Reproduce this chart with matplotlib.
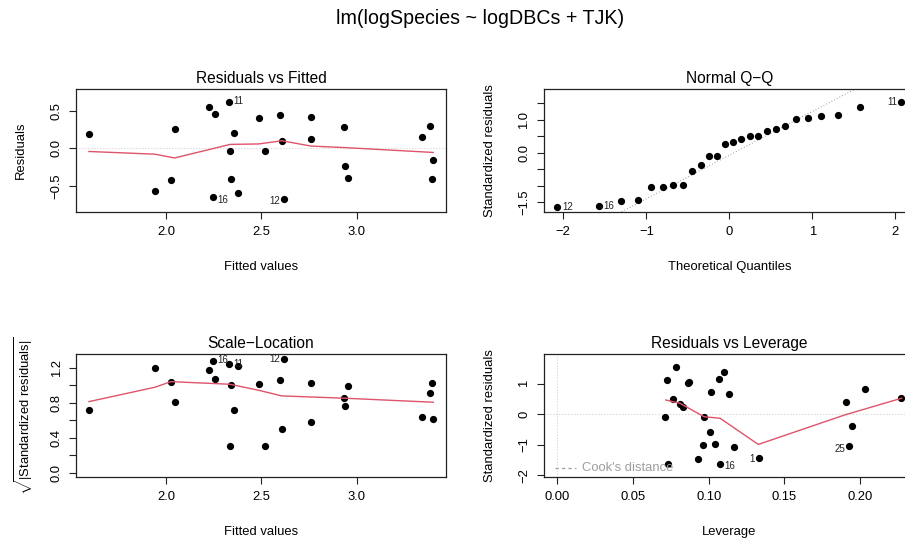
import matplotlib
matplotlib.use('Agg')
import matplotlib.pyplot as plt
from matplotlib.lines import Line2D

plt.rcParams['font.family'] = ['Liberation Sans', 'DejaVu Sans']
plt.rcParams['mathtext.fontset'] = 'custom'
plt.rcParams['mathtext.rm'] = 'Liberation Sans'
plt.rcParams['mathtext.it'] = 'Liberation Sans:italic'
plt.rcParams['axes.unicode_minus'] = True

# ---------------- data ----------------
main_title = "lm(logSpecies ~ logDBCs + TJK)"

fitted = [1.596, 1.942, 2.026, 2.045, 2.226, 2.248, 2.255, 2.329, 2.337, 2.343,
          2.358, 2.378, 2.486, 2.521, 2.596, 2.608, 2.619, 2.760, 2.760, 2.935,
          2.937, 2.956, 3.344, 3.386, 3.395, 3.402]
residuals = [0.190, -0.566, -0.425, 0.252, 0.549, -0.646, 0.451, 0.615, -0.040, -0.403,
             0.204, -0.593, 0.403, -0.040, 0.447, 0.097, -0.677, 0.416, 0.128, 0.283,
             -0.235, -0.398, 0.150, 0.301, -0.403, -0.150]
sqrt_std_resid = [0.718, 1.200, 1.033, 0.809, 1.177, 1.276, 1.071, 1.238, 0.300, 1.003,
                  0.718, 1.215, 1.010, 0.300, 1.056, 0.501, 1.295, 1.025, 0.577, 0.855,
                  0.760, 0.991, 0.642, 0.908, 1.029, 0.615]
# indices (into fitted lists) of labelled points and their labels
rvf_labels = {7: "11", 5: "16", 16: "12"}

# smoother lines
rvf_smooth_x = [1.596, 1.942, 2.045, 2.337, 2.486, 2.608, 2.760, 2.935, 3.402]
rvf_smooth_y = [-0.042, -0.078, -0.128, 0.052, 0.058, 0.100, 0.030, 0.010, -0.055]
sl_smooth_x = [1.596, 1.942, 2.026, 2.336, 2.493, 2.607, 2.935, 3.402]
sl_smooth_y = [0.812, 0.976, 1.040, 1.010, 0.938, 0.877, 0.851, 0.805]

# Normal Q-Q
theo_q = [-2.070, -1.574, -1.304, -1.105, -0.942, -0.801, -0.674, -0.558, -0.448, -0.344,
          -0.243, -0.145, -0.048, 0.048, 0.145, 0.243, 0.344, 0.448, 0.558, 0.674,
          0.801, 0.942, 1.105, 1.304, 1.574, 2.070]
std_resid_sorted = [-1.651, -1.621, -1.469, -1.429, -1.054, -1.054, -0.993, -0.973, -0.567, -0.375,
                    -0.091, -0.091, 0.253, 0.334, 0.415, 0.517, 0.517, 0.648, 0.729, 0.821,
                    1.013, 1.044, 1.125, 1.155, 1.388, 1.540]
qq_labels = {0: "12", 1: "16", 25: "11"}
qq_slope = 1.326
qq_intercept = -0.075

# Residuals vs Leverage
leverage = [0.0786, 0.0722, 0.0767, 0.0714, 0.0729, 0.0808, 0.0830, 0.0861, 0.0872, 0.0932,
            0.0965, 0.0971, 0.1011, 0.1018, 0.1040, 0.1066, 0.1075, 0.1104, 0.1134, 0.1167,
            0.1330, 0.1905, 0.1927, 0.1949, 0.2031, 0.2273]
lev_std_resid = [1.544, 1.128, 0.515, -0.088, -1.643, 0.340, 0.252, 1.030, 1.051, -1.468,
                 -0.997, -0.088, -0.570, 0.734, -0.986, 1.161, -1.621, 1.391, 0.657, -1.062,
                 -1.424, 0.416, -1.051, -0.372, 0.832, 0.526]
lev_labels = {16: "16", 20: "1", 22: "25"}
lev_smooth_x = [0.0716, 0.0811, 0.0969, 0.1075, 0.1328, 0.1900, 0.2276]
lev_smooth_y = [0.47, 0.36, -0.08, -0.13, -0.99, -0.02, 0.53]

# ---------------- figure ----------------
W, H = 905, 541
fig = plt.figure(figsize=(W / 100, H / 100), dpi=100)

FS = 9.4
RED = '#DF536B'
BOX = '#222222'


def ax_at(l, t, r, b):
    return fig.add_axes([l / W, 1 - b / H, (r - l) / W, (b - t) / H])


def fx(x):
    return x / W


def fy(y):
    return 1 - y / H


def style(ax, xt, xl, yt, yl, xlim, ylim, title):
    ax.set_xlim(*xlim)
    ax.set_ylim(*ylim)
    for s in ax.spines.values():
        s.set_color(BOX)
        s.set_linewidth(0.9)
    ax.set_xticks(xt, xl, fontsize=FS)
    ax.set_yticks(yt, yl, fontsize=FS, rotation=90, va='center')
    ax.tick_params(axis='both', direction='out', length=5, width=0.8, color=BOX)
    ax.tick_params(axis='x', pad=5.5)
    ax.tick_params(axis='y', pad=4.5)
    ax.set_facecolor('white')
    ax.text(0.5, 1 + 11.0 / 122.4, title, transform=ax.transAxes, ha='center',
            va='center', fontsize=11.2)


def label_points(ax, xs, ys, labels, side, dy):
    for i, txt in labels.items():
        s = side[i]
        off = 3.2 if s == 'r' else -2.8
        ax.annotate(txt, (xs[i], ys[i]), xytext=(off, dy[i]),
                    textcoords='offset points', ha='left' if s == 'r' else 'right',
                    va='center', fontsize=7.0, color='#222222', zorder=5)


MS = 4.2

# Panel 1: Residuals vs Fitted
ax1 = ax_at(76, 89.3, 446, 211.7)
style(ax1, [2.0, 2.5, 3.0], ['2.0', '2.5', '3.0'],
      [-0.5, 0.0, 0.5], ['\u22120.5', '0.0', '0.5'],
      (1.528, 3.469), (-0.841, 0.783), 'Residuals vs Fitted')
ax1.axhline(0, color='#BEBEBE', lw=0.8, ls=(0, (0.7, 2.0)), zorder=1)
ax1.plot(fitted, residuals, 'o', color='black', ms=MS, zorder=3)
ax1.plot(rvf_smooth_x, rvf_smooth_y, color=RED, lw=1.0, zorder=4)
label_points(ax1, fitted, residuals, rvf_labels, {7: 'r', 5: 'r', 16: 'l'},
             {7: 0.5, 5: -1.8, 16: -1.2})

# Panel 2: Normal Q-Q
ax2 = ax_at(543.7, 89.3, 915, 211.7)
style(ax2, [-2, -1, 0, 1, 2], ['\u22122', '\u22121', '0', '1', '2'],
      [-1.5, -1.0, -0.5, 0.0, 0.5, 1.0, 1.5], ['\u22121.5', '', '', '0.0', '', '1.0', ''],
      (-2.236, 2.236), (-1.793, 1.925), 'Normal Q\u2212Q')
ax2.axline((0, qq_intercept), slope=qq_slope, color='#8C8C8C', lw=0.8,
           ls=(0, (0.7, 2.0)), zorder=1)
ax2.plot(theo_q, std_resid_sorted, 'o', color='black', ms=MS, zorder=3)
label_points(ax2, theo_q, std_resid_sorted, qq_labels, {0: 'r', 1: 'r', 25: 'l'},
             {0: 0.0, 1: 0.0, 25: 0.0})

# Panel 3: Scale-Location
ax3 = ax_at(76, 354.3, 446, 476.7)
style(ax3, [2.0, 2.5, 3.0], ['2.0', '2.5', '3.0'],
      [0.0, 0.2, 0.4, 0.6, 0.8, 1.0, 1.2], ['0.0', '', '0.4', '', '0.8', '', '1.2'],
      (1.528, 3.469), (-0.045, 1.352), 'Scale\u2212Location')
ax3.plot(fitted, sqrt_std_resid, 'o', color='black', ms=MS, zorder=3)
ax3.plot(sl_smooth_x, sl_smooth_y, color=RED, lw=1.0, zorder=4)
label_points(ax3, fitted, sqrt_std_resid, rvf_labels, {7: 'r', 5: 'r', 16: 'l'},
             {7: 0.5, 5: 0.8, 16: 0.3})

# Panel 4: Residuals vs Leverage
ax4 = ax_at(543.7, 354.3, 915, 476.7)
style(ax4, [0.0, 0.05, 0.10, 0.15, 0.20], ['0.00', '0.05', '0.10', '0.15', '0.20'],
      [-2, -1, 0, 1], ['\u22122', '\u22121', '0', '1'],
      (-0.0091, 0.2364), (-2.051, 1.972), 'Residuals vs Leverage')
ax4.axhline(0, color='#BEBEBE', lw=0.8, ls=(0, (0.7, 2.0)), zorder=1)
ax4.axvline(0, color='#BEBEBE', lw=0.8, ls=(0, (0.7, 2.0)), zorder=1)
ax4.plot(leverage, lev_std_resid, 'o', color='black', ms=MS, zorder=3)
ax4.plot(lev_smooth_x, lev_smooth_y, color=RED, lw=1.0, zorder=4)
label_points(ax4, leverage, lev_std_resid, lev_labels, {16: 'r', 20: 'l', 22: 'l'},
             {16: -1.8, 20: -1.0, 22: -2.0})

# Cook's distance legend
fig.add_artist(Line2D([fx(555), fx(576)], [fy(468.3), fy(468.3)], color='#9E9E9E',
                      lw=0.9, ls=(0, (2.6, 2.6))))
fig.text(fx(581.7), fy(468.3), "Cook's distance", color='#9E9E9E', fontsize=FS,
         ha='left', va='center')

# axis labels
fig.text(fx(261), fy(266.7), 'Fitted values', ha='center', va='center', fontsize=FS)
fig.text(fx(729.3), fy(266.7), 'Theoretical Quantiles', ha='center', va='center', fontsize=FS)
fig.text(fx(261), fy(532.3), 'Fitted values', ha='center', va='center', fontsize=FS)
fig.text(fx(729.3), fy(532.3), 'Leverage', ha='center', va='center', fontsize=FS)
fig.text(fx(20.7), fy(150.5), 'Residuals', ha='center', va='center', rotation=90, fontsize=FS)
fig.text(fx(490), fy(150.5), 'Standardized residuals', ha='center', va='center',
         rotation=90, fontsize=FS)
fig.text(fx(23.3), fy(415.5), r'$\sqrt{|\mathrm{Standardized\ residuals}|}$', ha='center',
         va='center', rotation=90, fontsize=FS)
fig.text(fx(490), fy(415.5), 'Standardized residuals', ha='center', va='center',
         rotation=90, fontsize=FS)

fig.text(fx(480), fy(18.3), main_title, ha='center', va='center', fontsize=14.1)

fig.savefig('out.png', dpi=100, facecolor='white')
